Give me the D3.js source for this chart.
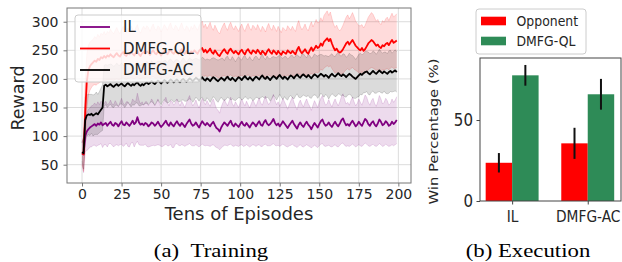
<!DOCTYPE html>
<html>
<head>
<meta charset="utf-8">
<script src="https://cdn.jsdelivr.net/npm/d3@7"></script>
<style>
  body { margin: 0; background: #fff; }
  svg { display: block; font-family: "DejaVu Sans", sans-serif; }
</style>
</head>
<body>
<svg id="chart" width="622" height="262"></svg>
<script>
// ---- (a) Training: reward curves, one value per ten episodes ----
const ilMean = [
  70, 68, 100, 108, 112, 115, 117, 119, 121, 118, 122, 120, 124, 119, 121, 123, 118, 122, 125, 120,
  118, 123, 121, 117, 122, 126, 120, 119, 124, 121, 118, 122, 127, 121, 124, 133, 124, 120, 122, 119,
  123, 121, 117, 120, 124, 122, 118, 121, 125, 120, 116, 119, 123, 127, 121, 118, 124, 120, 117, 122,
  126, 121, 118, 123, 120, 116, 121, 125, 129, 122, 118, 120, 124, 119, 115, 121, 126, 122, 119, 123,
  120, 117, 122, 125, 119, 114, 112, 108, 115, 120, 124, 121, 118, 123, 127, 120, 117, 122, 119, 116,
  121, 125, 120, 118, 123, 119, 115, 120, 124, 121, 117, 122, 126, 120, 118, 124, 128, 122, 119, 121,
  125, 130, 123, 119, 122, 117, 121, 126, 122, 118, 114, 119, 123, 127, 121, 117, 113, 120, 124, 119,
  116, 121, 125, 120, 117, 112, 118, 123, 119, 115, 121, 126, 129, 122, 118, 120, 124, 119, 116, 121,
  125, 120, 117, 122, 128, 131, 124, 119, 121, 118, 123, 127, 122, 117, 120, 125, 121, 118, 124, 130,
  127, 121, 118, 123, 126, 120, 117, 122, 129, 125, 119, 121, 126, 123, 118, 120, 125, 121, 124, 128
];
const ilStd = [
  18, 32, 28, 33, 35, 34, 36, 35, 37, 36, 38, 35, 37, 39, 36, 38, 37, 35, 38, 36,
  37, 39, 36, 34, 37, 40, 38, 35, 36, 39, 37, 34, 38, 40, 37, 42, 39, 36, 38, 35,
  37, 39, 36, 38, 41, 38, 35, 37, 40, 36, 34, 37, 39, 41, 38, 35, 38, 40, 37, 36,
  39, 37, 35, 38, 36, 34, 37, 40, 42, 38, 35, 37, 39, 36, 34, 37, 40, 38, 36, 39,
  37, 35, 38, 40, 37, 34, 33, 32, 36, 38, 40, 37, 35, 38, 41, 37, 35, 38, 36, 34,
  37, 40, 38, 35, 38, 36, 34, 37, 39, 37, 35, 38, 41, 38, 36, 39, 42, 39, 36, 38,
  40, 43, 39, 36, 38, 35, 37, 40, 38, 36, 33, 36, 39, 41, 38, 35, 33, 37, 39, 37,
  35, 38, 40, 37, 35, 33, 36, 39, 37, 35, 38, 40, 42, 39, 36, 37, 40, 37, 35, 38,
  40, 38, 36, 38, 41, 43, 40, 37, 38, 36, 39, 41, 38, 36, 37, 40, 38, 36, 39, 42,
  41, 38, 36, 39, 40, 37, 35, 38, 42, 40, 37, 38, 40, 39, 36, 37, 40, 38, 39, 41
];
const qlMean = [
  70, 68, 140, 195, 215, 222, 226, 229, 232, 230, 235, 233, 238, 236, 240, 237, 241, 239, 243, 240,
  238, 242, 245, 241, 239, 244, 247, 242, 240, 245, 243, 248, 244, 241, 246, 249, 243, 240, 245, 247,
  244, 248, 246, 242, 247, 250, 245, 243, 248, 246, 241, 245, 249, 247, 243, 248, 251, 246, 244, 249,
  247, 243, 248, 252, 246, 244, 249, 247, 243, 248, 245, 250, 247, 244, 249, 252, 254, 247, 251, 246,
  249, 253, 247, 244, 250, 246, 242, 240, 245, 249, 252, 247, 244, 250, 253, 248, 245, 249, 246, 243,
  248, 251, 246, 243, 249, 252, 247, 244, 250, 248, 245, 251, 247, 243, 249, 246, 242, 248, 252, 247,
  244, 250, 247, 243, 249, 245, 242, 248, 246, 244, 250, 247, 245, 249, 246, 243, 251, 256, 249, 245,
  248, 252, 247, 244, 250, 255, 249, 253, 258, 254, 256, 262, 258, 265, 268, 271, 266, 270, 262, 255,
  250, 253, 248, 246, 248, 252, 257, 262, 265, 260, 264, 268, 263, 258, 255, 252, 250, 254, 249, 252,
  257, 262, 265, 268, 266, 262, 258, 260, 256, 254, 259, 257, 261, 263, 259, 264, 268, 263, 265, 267
];
const qlStd = [
  20, 30, 55, 48, 44, 42, 41, 40, 42, 41, 43, 40, 42, 41, 43, 40, 42, 41, 44, 42,
  41, 43, 45, 42, 40, 43, 45, 42, 41, 44, 42, 45, 43, 41, 44, 46, 42, 40, 43, 45,
  43, 45, 44, 41, 44, 46, 43, 42, 45, 44, 41, 43, 46, 44, 42, 45, 47, 43, 42, 45,
  44, 41, 44, 46, 43, 41, 44, 43, 40, 44, 42, 45, 43, 41, 44, 46, 47, 43, 45, 42,
  44, 46, 43, 41, 44, 42, 40, 39, 42, 44, 46, 43, 41, 44, 46, 43, 41, 44, 42, 40,
  43, 45, 42, 40, 43, 45, 42, 41, 44, 43, 41, 44, 42, 40, 43, 42, 40, 43, 45, 42,
  41, 44, 42, 40, 43, 41, 39, 42, 41, 40, 43, 42, 40, 43, 41, 40, 44, 46, 43, 41,
  42, 44, 41, 40, 43, 45, 42, 44, 46, 44, 43, 45, 43, 46, 47, 48, 45, 47, 44, 41,
  40, 41, 39, 38, 40, 42, 44, 46, 47, 45, 46, 48, 46, 43, 42, 41, 43, 41, 40, 42,
  44, 46, 47, 48, 47, 45, 43, 44, 42, 41, 43, 42, 44, 45, 43, 45, 47, 45, 46, 47
];
const acMean = [
  72, 70, 128, 136, 138, 137, 139, 136, 138, 140, 138, 142, 146, 150, 188, 190, 187, 189, 191, 188,
  186, 189, 191, 188, 190, 192, 189, 187, 190, 193, 190, 188, 191, 189, 192, 194, 190, 188, 191, 189,
  192, 194, 191, 193, 196, 193, 191, 194, 197, 195, 192, 195, 198, 196, 193, 196, 199, 197, 194, 197,
  199, 196, 194, 198, 200, 197, 195, 198, 201, 199, 196, 199, 202, 200, 197, 200, 203, 199, 197, 201,
  199, 196, 200, 203, 201, 198, 196, 199, 202, 200, 197, 201, 204, 200, 198, 202, 199, 196, 200, 203,
  201, 198, 202, 205, 201, 199, 203, 200, 197, 201, 204, 202, 199, 203, 206, 202, 200, 204, 201, 198,
  202, 205, 203, 200, 204, 207, 203, 200, 204, 202, 199, 203, 206, 204, 201, 205, 208, 204, 202, 206,
  208, 205, 203, 207, 204, 201, 205, 208, 206, 203, 206, 209, 207, 204, 207, 205, 202, 206, 209, 206,
  204, 207, 210, 207, 205, 208, 206, 203, 206, 209, 207, 204, 202, 200, 203, 206, 209, 207, 210, 212,
  213, 210, 208, 211, 214, 211, 209, 212, 215, 212, 210, 213, 211, 209, 212, 214, 211, 213, 215, 212
];
const acStd = [
  16, 28, 40, 36, 35, 36, 34, 36, 35, 37, 35, 36, 38, 40, 36, 35, 37, 36, 35, 37,
  36, 35, 37, 36, 34, 36, 35, 37, 36, 34, 35, 37, 36, 35, 34, 36, 37, 35, 36, 34,
  35, 37, 36, 34, 36, 35, 37, 35, 34, 36, 37, 35, 34, 36, 35, 37, 36, 34, 35, 36,
  35, 36, 34, 35, 37, 36, 34, 35, 36, 35, 37, 36, 34, 35, 36, 34, 35, 37, 36, 34,
  35, 37, 36, 34, 35, 36, 37, 35, 34, 36, 35, 37, 36, 34, 35, 37, 36, 34, 35, 36,
  34, 35, 37, 36, 34, 35, 36, 34, 35, 37, 36, 35, 34, 36, 37, 35, 34, 36, 35, 37,
  36, 34, 35, 37, 36, 34, 35, 36, 35, 37, 36, 34, 35, 37, 36, 35, 34, 36, 35, 37,
  36, 35, 34, 36, 37, 35, 34, 36, 35, 37, 36, 34, 35, 36, 34, 35, 37, 36, 35, 34,
  35, 37, 36, 34, 35, 36, 37, 35, 34, 36, 35, 37, 36, 34, 35, 37, 36, 35, 34, 36,
  35, 37, 36, 34, 35, 36, 34, 35, 37, 36, 35, 34, 36, 35, 37, 36, 34, 35, 36, 35
];
const trainNames = ["IL", "DMFG-QL", "DMFG-AC"];
const trainTicksX = [0, 25, 50, 75, 100, 125, 150, 175, 200];
const trainTicksY = [50, 100, 150, 200, 250, 300];

// ---- (b) Execution: win percentage ----
const opponents = ["IL", "DMFG-AC"];
const opponentWin = [23.6, 35.6];
const opponentErr = [6.0, 9.6];
const qlWin = [77.6, 65.9];
const qlErr = [6.4, 9.5];
const execTicksY = [0, 50];

const svg = d3.select("#chart");
const textColor = "#262626";

// ================= left panel =================
const x = d3.scaleLinear().domain([-9.5, 208]).range([67, 411]);
const y = d3.scaleLinear().domain([18, 324]).range([183, 8]);

const series = [
  { name: trainNames[0], mean: ilMean, std: ilStd, color: "#800080" },
  { name: trainNames[1], mean: qlMean, std: qlStd, color: "#ff0000" },
  { name: trainNames[2], mean: acMean, std: acStd, color: "#000000" }
];

const left = svg.append("g");

// grid
left.append("g").selectAll("line").data(trainTicksX).join("line")
  .attr("x1", d => x(d)).attr("x2", d => x(d))
  .attr("y1", 8).attr("y2", 183)
  .attr("stroke", "#dcdcdc");
left.append("g").selectAll("line").data(trainTicksY).join("line")
  .attr("x1", 67).attr("x2", 411)
  .attr("y1", d => y(d)).attr("y2", d => y(d))
  .attr("stroke", "#dcdcdc");

const band = d3.area()
  .x((d, i) => x(i))
  .y0((d, i, arr) => y(d.m - d.s))
  .y1(d => y(d.m + d.s));
const edgeHi = d3.line().x((d, i) => x(i)).y(d => y(d.m + d.s));
const edgeLo = d3.line().x((d, i) => x(i)).y(d => y(d.m - d.s));
const meanLine = d3.line().x((d, i) => x(i)).y(d => y(d.m));

series.forEach(s => { s.pts = s.mean.map((m, i) => ({ m, s: s.std[i] })); });

const bands = left.append("g");
series.forEach(s => {
  bands.append("path").datum(s.pts)
    .attr("d", band).attr("fill", s.color).attr("fill-opacity", 0.14);
  [edgeHi, edgeLo].forEach(g => bands.append("path").datum(s.pts)
    .attr("d", g).attr("fill", "none")
    .attr("stroke", s.color).attr("stroke-opacity", 0.14).attr("stroke-width", 1));
});

const lines = left.append("g");
series.forEach(s => {
  lines.append("path").datum(s.pts)
    .attr("d", meanLine).attr("fill", "none")
    .attr("stroke", s.color).attr("stroke-width", 1.8)
    .attr("stroke-linejoin", "round");
});

// frame
left.append("rect").attr("x", 67).attr("y", 8).attr("width", 344).attr("height", 175)
  .attr("fill", "none").attr("stroke", "#777");

// axes
const xAxis = left.append("g").attr("transform", "translate(0,183)")
  .call(d3.axisBottom(x).tickValues(trainTicksX).tickSize(3.5).tickPadding(3));
const yAxis = left.append("g").attr("transform", "translate(67,0)")
  .call(d3.axisLeft(y).tickValues(trainTicksY).tickSize(3.5).tickPadding(5));
[xAxis, yAxis].forEach(a => {
  a.select(".domain").remove();
  a.selectAll("line").attr("stroke", "#777");
  a.selectAll("text").attr("font-size", 14).attr("fill", textColor)
    .attr("font-family", "DejaVu Sans");
});

left.append("text").attr("x", 239).attr("y", 220).attr("text-anchor", "middle")
  .attr("font-size", 18).attr("fill", textColor).text("Tens of Episodes");
left.append("text").attr("transform", "translate(24,98) rotate(-90)")
  .attr("text-anchor", "middle").attr("font-size", 17.5).attr("fill", textColor).text("Reward");

// legend
const lg = left.append("g");
lg.append("rect").attr("x", 75).attr("y", 15).attr("width", 126).attr("height", 67).attr("rx", 3)
  .attr("fill", "#fff").attr("fill-opacity", 0.8).attr("stroke", "#ccc");
const rowsL = [27, 48.5, 70];
series.forEach((s, i) => {
  lg.append("line").attr("x1", 80).attr("x2", 110).attr("y1", rowsL[i]).attr("y2", rowsL[i])
    .attr("stroke", s.color).attr("stroke-width", 1.8);
  lg.append("text").attr("x", 123).attr("y", rowsL[i]).attr("dy", "0.36em")
    .attr("font-size", 15).attr("fill", textColor).text(s.name);
});

// ================= right panel =================
const sx = 0.86; // the right figure is squeezed horizontally
const xr = d3.scaleLinear().domain([-0.425, 1.44]).range([480, 621]);
const yr = d3.scaleLinear().domain([0, 88.3]).range([201, 58]);
const bw = 0.35;
const right = svg.append("g");

const barSets = [
  { name: "Opponent", vals: opponentWin, err: opponentErr, off: -bw, color: "#ff0000" },
  { name: "DMFG-QL", vals: qlWin, err: qlErr, off: 0, color: "#2e8b57" }
];

barSets.forEach(b => {
  right.append("g").selectAll("rect").data(b.vals).join("rect")
    .attr("x", (d, i) => xr(i + b.off))
    .attr("width", xr(bw) - xr(0))
    .attr("y", d => yr(d))
    .attr("height", d => yr(0) - yr(d))
    .attr("fill", b.color);
  right.append("g").selectAll("line").data(b.vals).join("line")
    .attr("x1", (d, i) => xr(i + b.off + bw / 2))
    .attr("x2", (d, i) => xr(i + b.off + bw / 2))
    .attr("y1", (d, i) => yr(d - b.err[i]))
    .attr("y2", (d, i) => yr(d + b.err[i]))
    .attr("stroke", "#111").attr("stroke-width", 2);
});

right.append("rect").attr("x", 480).attr("y", 58).attr("width", 141).attr("height", 143)
  .attr("fill", "none").attr("stroke", "#444");

const yrAxis = right.append("g").attr("transform", "translate(480,0)")
  .call(d3.axisLeft(yr).tickValues(execTicksY).tickSize(3.5).tickPadding(0));
yrAxis.select(".domain").remove();
yrAxis.selectAll("line").attr("stroke", "#444");
yrAxis.selectAll("text").attr("x", 0)
  .attr("transform", "translate(-7,0) scale(" + sx + ",1)")
  .attr("font-size", 17.5).attr("fill", textColor).attr("font-family", "DejaVu Sans");

const xrAxis = right.append("g").attr("transform", "translate(0,201)")
  .call(d3.axisBottom(xr).tickValues([0, 1]).tickFormat((d, i) => opponents[i]).tickSize(3.5).tickPadding(0));
xrAxis.select(".domain").remove();
xrAxis.selectAll("line").attr("stroke", "#444");
xrAxis.selectAll("text").attr("y", 0).attr("dy", 0)
  .attr("transform", "translate(0,20.5) scale(" + sx + ",1)")
  .attr("font-size", 16).attr("fill", textColor).attr("font-family", "DejaVu Sans");

right.append("text")
  .attr("transform", "translate(438,131.5) scale(" + sx + ",1) rotate(-90)")
  .attr("text-anchor", "middle").attr("font-size", 14.8).attr("fill", textColor)
  .text("Win Percentage (%)");

// legend
const lr = right.append("g");
lr.append("rect").attr("x", 476).attr("y", 9).attr("width", 110).attr("height", 45).attr("rx", 3)
  .attr("fill", "#fff").attr("fill-opacity", 0.8).attr("stroke", "#ccc");
const rowsR = [21, 41];
barSets.forEach((b, i) => {
  lr.append("rect").attr("x", 481).attr("y", rowsR[i] - 4.3).attr("width", 25).attr("height", 8.6)
    .attr("fill", b.color);
  lr.append("text").attr("transform", "translate(516.5," + rowsR[i] + ") scale(" + sx + ",1)")
    .attr("dy", "0.36em").attr("font-size", 14.5).attr("fill", textColor).text(b.name);
});

// ================= captions =================
const captions = [
  { text: "(a)\u00a0\u00a0Training", cx: 211 },
  { text: "(b) Execution", cx: 528 }
];
svg.append("g").selectAll("text").data(captions).join("text")
  .attr("transform", d => "translate(" + d.cx + ",257) scale(1.2,1)")
  .attr("text-anchor", "middle")
  .attr("font-family", "Liberation Serif, Times New Roman, serif")
  .attr("font-size", 19).attr("fill", "#000")
  .text(d => d.text);
</script>
</body>
</html>
